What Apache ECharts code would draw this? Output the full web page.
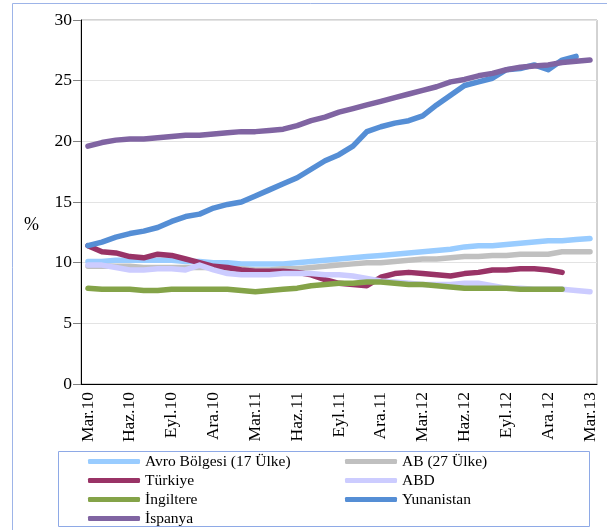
<!DOCTYPE html>
<html>
<head>
<meta charset="utf-8">
<script src="https://cdn.jsdelivr.net/npm/echarts@6/dist/echarts.min.js"></script>
<style>
  html, body { margin: 0; padding: 0; background: #fff; }
  #chart { width: 607px; height: 530px; }
</style>
</head>
<body>
<div id="chart"></div>
<script>
// aylar (Mar.10 - Mar.13)
var months = [
  "Mar.10", "Nis.10", "May.10", "Haz.10", "Tem.10", "Ağu.10", "Eyl.10", "Eki.10", "Kas.10", "Ara.10",
  "Oca.11", "Şub.11", "Mar.11", "Nis.11", "May.11", "Haz.11", "Tem.11", "Ağu.11", "Eyl.11", "Eki.11", "Kas.11", "Ara.11",
  "Oca.12", "Şub.12", "Mar.12", "Nis.12", "May.12", "Haz.12", "Tem.12", "Ağu.12", "Eyl.12", "Eki.12", "Kas.12", "Ara.12",
  "Oca.13", "Şub.13", "Mar.13"
];

var avroBolgesi = [10.1, 10.1, 10.2, 10.2, 10.2, 10.2, 10.2, 10.1, 10.1, 10.0, 10.0, 9.9, 9.9, 9.9, 9.9, 10.0, 10.1, 10.2, 10.3, 10.4, 10.5, 10.6, 10.7, 10.8, 10.9, 11.0, 11.1, 11.3, 11.4, 11.4, 11.5, 11.6, 11.7, 11.8, 11.8, 11.9, 12.0];
var ab27 = [9.7, 9.7, 9.7, 9.7, 9.6, 9.6, 9.6, 9.6, 9.6, 9.6, 9.5, 9.5, 9.4, 9.4, 9.5, 9.5, 9.6, 9.7, 9.8, 9.9, 10.0, 10.0, 10.1, 10.2, 10.3, 10.3, 10.4, 10.5, 10.5, 10.6, 10.6, 10.7, 10.7, 10.7, 10.9, 10.9, 10.9];
var turkiye = [11.4, 10.9, 10.8, 10.5, 10.4, 10.7, 10.6, 10.3, 10.0, 9.7, 9.6, 9.4, 9.3, 9.3, 9.3, 9.2, 9.0, 8.6, 8.3, 8.2, 8.1, 8.8, 9.1, 9.2, 9.1, 9.0, 8.9, 9.1, 9.2, 9.4, 9.4, 9.5, 9.5, 9.4, 9.2];
var abd = [9.8, 9.8, 9.6, 9.4, 9.4, 9.5, 9.5, 9.4, 9.8, 9.4, 9.1, 9.0, 9.0, 9.0, 9.1, 9.1, 9.1, 9.0, 9.0, 8.9, 8.7, 8.5, 8.4, 8.3, 8.2, 8.2, 8.2, 8.3, 8.3, 8.1, 7.9, 7.9, 7.8, 7.8, 7.8, 7.7, 7.6];
var ingiltere = [7.9, 7.8, 7.8, 7.8, 7.7, 7.7, 7.8, 7.8, 7.8, 7.8, 7.8, 7.7, 7.6, 7.7, 7.8, 7.9, 8.1, 8.2, 8.3, 8.3, 8.4, 8.4, 8.3, 8.2, 8.2, 8.1, 8.0, 7.9, 7.9, 7.9, 7.9, 7.8, 7.8, 7.8, 7.8];
var yunanistan = [11.4, 11.7, 12.1, 12.4, 12.6, 12.9, 13.4, 13.8, 14.0, 14.5, 14.8, 15.0, 15.5, 16.0, 16.5, 17.0, 17.7, 18.4, 18.9, 19.6, 20.8, 21.2, 21.5, 21.7, 22.1, 23.0, 23.8, 24.6, 24.9, 25.2, 25.9, 26.0, 26.3, 25.9, 26.7, 27.0];
var ispanya = [19.6, 19.9, 20.1, 20.2, 20.2, 20.3, 20.4, 20.5, 20.5, 20.6, 20.7, 20.8, 20.8, 20.9, 21.0, 21.3, 21.7, 22.0, 22.4, 22.7, 23.0, 23.3, 23.6, 23.9, 24.2, 24.5, 24.9, 25.1, 25.4, 25.6, 25.9, 26.1, 26.2, 26.3, 26.5, 26.6, 26.7];

var yTicks = [0, 5, 10, 15, 20, 25, 30];

var font = "Liberation Serif";

function seri(name, data, color) {
  return {
    name: name,
    type: "line",
    data: data,
    symbol: "none",
    color: color,
    lineStyle: { width: 5.5, color: color, cap: "round", join: "round" },
    emphasis: { disabled: true }
  };
}

function legendCol(left, names) {
  return {
    orient: "vertical",
    left: left,
    top: 452,
    height: 120,
    padding: 0,
    itemWidth: 52,
    itemHeight: 5,
    itemGap: 0,
    icon: "roundRect",
    selectedMode: false,
    textStyle: { color: "#000", fontFamily: font, fontSize: 15.5, lineHeight: 19 },
    data: names
  };
}

var myChart = echarts.init(document.getElementById("chart"));
myChart.setOption({
  animation: false,
  backgroundColor: "#fff",
  grid: {
    left: 81,
    right: 10,
    top: 20,
    bottom: 146,
    show: true,
    borderColor: "#a6a6a6",
    borderWidth: 1
  },
  xAxis: {
    type: "category",
    data: months,
    boundaryGap: true,
    axisLine: { lineStyle: { color: "#000", width: 1 } },
    axisTick: { interval: 2, length: 7, lineStyle: { color: "#000" } },
    axisLabel: {
      interval: 2,
      rotate: 90,
      margin: 8,
      color: "#000",
      fontFamily: font,
      fontSize: 17.5
    },
    splitLine: { show: false }
  },
  yAxis: {
    type: "value",
    min: yTicks[0],
    max: yTicks[yTicks.length - 1],
    interval: 5,
    axisLine: { show: true, lineStyle: { color: "#000", width: 1 } },
    axisTick: { show: true, length: 8, lineStyle: { color: "#808080" } },
    axisLabel: { color: "#000", fontFamily: font, fontSize: 17.5, margin: 9 },
    splitLine: { show: true, lineStyle: { color: "#e3e3e3", width: 1 } }
  },
  legend: [
    legendCol(88, ["Avro Bölgesi (17 Ülke)", "Türkiye", "İngiltere", "İspanya"]),
    legendCol(345, ["AB (27 Ülke)", "ABD", "Yunanistan"])
  ],
  graphic: [
    {
      type: "rect",
      shape: { x: 12.5, y: 3.5, width: 700, height: 700 },
      style: { fill: "none", stroke: "#9db4e8", lineWidth: 1 },
      silent: true
    },
    {
      type: "rect",
      shape: { x: 58.5, y: 451.5, width: 531, height: 75 },
      style: { fill: "none", stroke: "#8ea9e6", lineWidth: 1 },
      silent: true
    },
    {
      type: "text",
      left: 24,
      top: 216,
      style: { text: "%", fill: "#000", font: "18px 'Liberation Serif'" },
      silent: true
    }
  ],
  series: [
    seri("Avro Bölgesi (17 Ülke)", avroBolgesi, "#99ccff"),
    seri("AB (27 Ülke)", ab27, "#c0c0c0"),
    seri("Türkiye", turkiye, "#993366"),
    seri("ABD", abd, "#ccccff"),
    seri("İngiltere", ingiltere, "#84a348"),
    seri("Yunanistan", yunanistan, "#558ed5"),
    seri("İspanya", ispanya, "#8064a2")
  ]
});
</script>
</body>
</html>
